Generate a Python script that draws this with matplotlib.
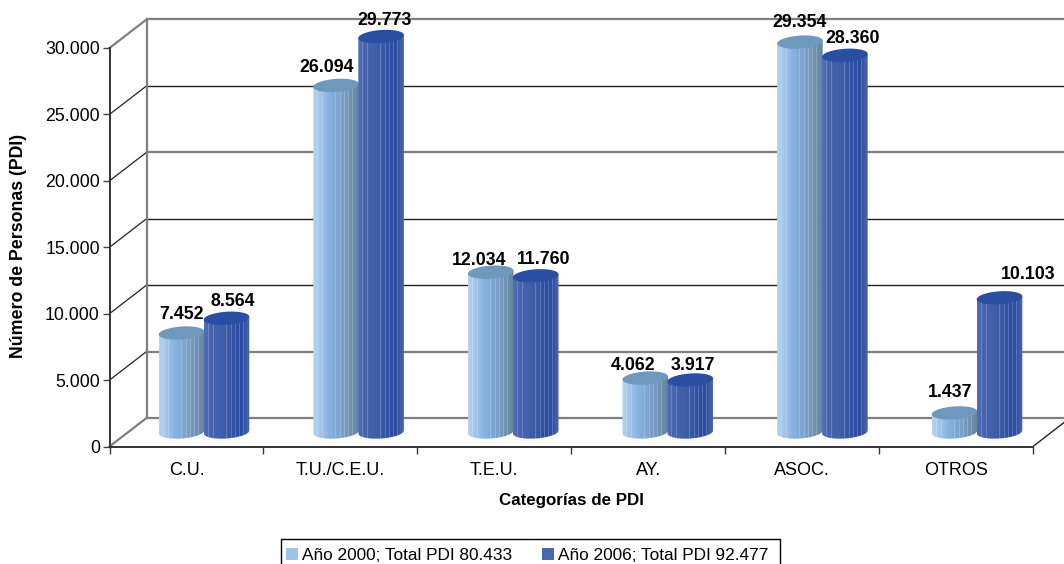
import numpy as np
import matplotlib
matplotlib.use('Agg')
import matplotlib.pyplot as plt
from matplotlib.patches import Patch, PathPatch, Polygon, Rectangle
from matplotlib.path import Path
from matplotlib.colors import to_rgb

plt.rcParams['font.family'] = ['Liberation Sans', 'DejaVu Sans']

categories = ['C.U.', 'T.U./C.E.U.', 'T.E.U.', 'AY.', 'ASOC.', 'OTROS']
year_2000 = [7452, 26094, 12034, 4062, 29354, 1437]
year_2006 = [8564, 29773, 11760, 3917, 28360, 10103]
legend_labels = ['Año 2000; Total PDI 80.433', 'Año 2006; Total PDI 92.477']
y_ticks = [0, 5000, 10000, 15000, 20000, 25000, 30000]
y_tick_labels = ['0', '5.000', '10.000', '15.000', '20.000', '25.000', '30.000']

# label nudges in pixels from the top of each cylinder
nudge_2000 = [(0, 19), (-9, 18), (-12, 12), (-12, 13), (0, 20), (-4, 20)]
nudge_2006 = [(6, 17), (3, 16), (8, 16), (3, 14), (8, 17), (29, 23)]

W, H = 1064, 564
x0, x1, y0, y1 = 109.5, 1033, 446.5, 48
fig = plt.figure(figsize=(W / 100, H / 100), dpi=100)
ax = fig.add_axes([x0 / W, 1 - y0 / H, (x1 - x0) / W, (y0 - y1) / H])
ax.set_xlim(0, 6)
ax.set_ylim(0, 30000)

# data units per pixel
px = 6 / (x1 - x0)
py = 30000 / (y0 - y1)
wall_dx = 37 * px
wall_dy = 28.5 * py

# back wall and side wall
grid_colors = ['#7f7f7f', '#7f7f7f', '#222222', '#222222', '#7f7f7f', '#222222', '#7f7f7f']
grid_widths = [1.6, 1.6, 1.0, 1.0, 1.6, 1.0, 1.6]
for n, (v, c, lw) in enumerate(zip(y_ticks, grid_colors, grid_widths)):
    ax.plot([wall_dx, 6 + 31 * px], [v + wall_dy, v + wall_dy], color=c, lw=lw, clip_on=False, zorder=1)
    if n in (0, 6):
        ax.plot([0, wall_dx], [v, v + wall_dy], color='#7f7f7f', lw=1.6, clip_on=False, zorder=1)
    else:
        ax.plot([0, wall_dx], [v, v + wall_dy], color='#222222', lw=0.9, clip_on=False, zorder=1)
ax.plot([wall_dx, wall_dx], [wall_dy, 30000 + wall_dy], color='#7f7f7f', lw=1.6, clip_on=False, zorder=1)
ax.plot([6, 6 + 31 * px], [0, 24 * py], color='#222222', lw=1.0, clip_on=False, zorder=1)

light_stops = ['#b4d2ee', '#a0c4e8', '#8ab4e0', '#80aad6', '#7a9fc6', '#6f92b2', '#64859f']
dark_stops = ['#4f6cb4', '#4763ae', '#4060aa', '#3c5ba8', '#2f50a4', '#2a4ca2', '#4a66aa']
stripes = [0.1, 0.2, 0.5, 0.62, 0.7, 0.78, 0.88]


def shade(stops, n=46):
    rgb = np.array([to_rgb(c) for c in stops])
    t = np.linspace(0, 1, n)
    s = np.linspace(0, 1, len(stops))
    row = np.column_stack([np.interp(t, s, rgb[:, k]) for k in range(3)])
    for f in stripes:
        i = int(f * (n - 1))
        row[i] = row[i] * 0.8 + 0.2
    return row[np.newaxis, :, :]


half_w = 22.8 * px
half_h = 6.5
tilt = 1.5
base_y = 14.5 * py


def cylinder(xc, value, stops, top_color, z):
    th = np.linspace(0, 2 * np.pi, 80)
    ex = xc + half_w * np.cos(th)
    ey = (half_h * np.sin(th) + tilt * np.cos(th)) * py
    front = th >= np.pi
    top = value + base_y
    verts = list(zip(ex[front], base_y + ey[front]))
    verts += [(xc + half_w, top + tilt * py), (xc - half_w, top - tilt * py)]
    verts += [verts[0]]
    codes = [Path.MOVETO] + [Path.LINETO] * (len(verts) - 1)
    outline = PathPatch(Path(verts, codes), transform=ax.transData, fc='none', ec='none', clip_on=False)
    ax.add_patch(outline)
    im = ax.imshow(shade(stops), extent=[xc - half_w, xc + half_w, base_y - 2 * half_h * py, top + 2 * tilt * py],
                   aspect='auto', origin='lower', zorder=z, interpolation='nearest')
    im.set_clip_box(fig.bbox)
    im.set_clip_path(outline)
    ax.add_patch(Polygon(np.column_stack([ex, top + ey]), closed=True, fc=top_color, ec='none',
                         zorder=z + 0.1, clip_on=False))


for i, cat in enumerate(categories):
    # the cylinders sit at a slightly wider step than the axis ticks
    c1 = (181.5 - x0 + 154.6 * i) * px
    c2 = c1 + 45 * px
    cylinder(c1, year_2000[i], light_stops, '#6f98bd', 3)
    cylinder(c2, year_2006[i], dark_stops, '#2a4fa2', 4)
    for xc, val, (nx, ny) in ((c1, year_2000[i], nudge_2000[i]), (c2, year_2006[i], nudge_2006[i])):
        label = f'{val:,}'.replace(',', '.')
        ax.text(xc + nx * px, val + base_y + ny * py, label, ha='center', va='center',
                fontsize=12.8, fontweight='bold', color='black', zorder=6, clip_on=False)

ax.set_xlim(0, 6)
ax.set_ylim(0, 30000)

for side in ['top', 'right']:
    ax.spines[side].set_visible(False)
for side in ['left', 'bottom']:
    ax.spines[side].set_color('#333333')
    ax.spines[side].set_linewidth(1.4)
    ax.spines[side].set_zorder(5)

ax.set_yticks(y_ticks)
ax.set_yticklabels(y_tick_labels, fontsize=12.8)
ax.set_xticks(range(7))
ax.set_xticklabels([])
ax.set_xticks(np.arange(6) + 0.5, minor=True)
ax.set_xticklabels(categories, minor=True, fontsize=13)
ax.tick_params(axis='y', length=5, width=1, color='#444444', pad=2)
ax.tick_params(axis='x', which='major', length=5, width=1, color='#333333')
ax.tick_params(axis='x', which='minor', length=0, pad=11)

fig.text(571 / W, 1 - 500 / H, 'Categorías de PDI', ha='center', va='center', fontsize=12.2, fontweight='bold')
fig.text(19 / W, 1 - 246 / H, 'Número de Personas (PDI)', ha='center', va='center',
         rotation=90, fontsize=12.8, fontweight='bold')

handles = [Patch(fc='#9fc3e6', ec='none', label=legend_labels[0]),
           Patch(fc='#4a66b0', ec='none', label=legend_labels[1])]
fig.add_artist(Rectangle((281 / W, -0.01), 499 / W, 1 - 539 / H + 0.01, transform=fig.transFigure,
                         fc='white', ec='black', lw=1.0))
leg = fig.legend(handles=handles, ncol=2, loc='upper left', bbox_to_anchor=(286 / W, 1 - 548 / H),
                 frameon=False, fontsize=12.4, handlelength=0.7, handleheight=0.7, handletextpad=0.23,
                 columnspacing=1.75, borderpad=0, borderaxespad=0)

fig.savefig('out.png', dpi=100)
